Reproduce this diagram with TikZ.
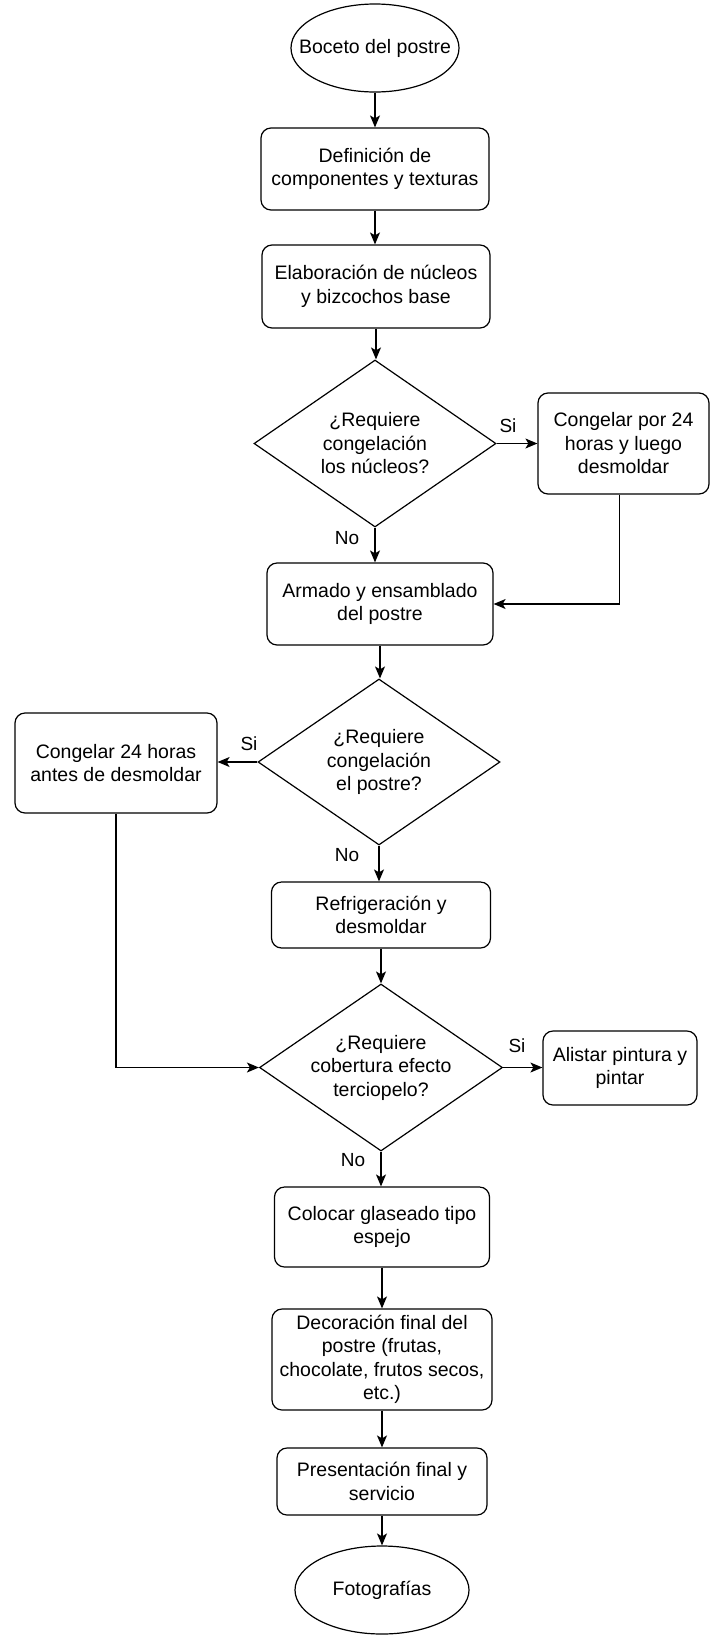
\documentclass[tikz,border=0pt]{standalone}
\usepackage{fontspec}
\setmainfont{Liberation Sans}
\usetikzlibrary{shapes.geometric,arrows.meta}
\tikzset{
  base/.style={draw=black, line width=1.2pt, fill=white, align=center, inner sep=0pt,
    font=\fontsize{19.5}{23.5}\selectfont},
  procbox/.style={base, rectangle, rounded corners=10pt},
  termin/.style={base, ellipse, inner xsep=-30pt, inner ysep=-15pt},
  decis/.style={base, diamond, aspect=1.45},
  conn/.style={line width=1.2pt, draw=black, -{Stealth[length=12pt,width=10pt,inset=3pt]}},
  lbl/.style={font=\fontsize{19}{22}\selectfont, inner sep=0pt}
}
\begin{document}
\begin{tikzpicture}[x=1pt,y=-1pt]
\useasboundingbox[fill=white] (0,0) rectangle (710,1639);

\node[termin, minimum width=168pt, minimum height=88pt] (start) at (375,48) {Boceto del postre};
\node[procbox, minimum width=228pt, minimum height=82pt] (b1) at (375,169) {Definición de\\componentes y texturas};
\node[procbox, minimum width=228pt, minimum height=83pt] (b2) at (376,286.5) {Elaboración de núcleos\\y bizcochos base};
\node[decis, minimum width=242pt, minimum height=167pt] (d1) at (375,443.5) {¿Requiere\\congelación\\los núcleos?};
\node[procbox, minimum width=171pt, minimum height=101pt] (r1) at (623.5,443.5) {Congelar por 24\\horas y luego\\desmoldar};
\node[procbox, minimum width=226pt, minimum height=82pt] (b3) at (380,604) {Armado y ensamblado\\del postre};
\node[decis, minimum width=242pt, minimum height=166pt] (d2) at (379,762) {¿Requiere\\congelación\\el postre?};
\node[procbox, minimum width=202pt, minimum height=100pt] (l1) at (116,763) {Congelar 24 horas\\antes de desmoldar};
\node[procbox, minimum width=219pt, minimum height=66pt] (b4) at (381,915) {Refrigeración y\\desmoldar};
\node[decis, minimum width=243pt, minimum height=167pt] (d3) at (381,1067.5) {¿Requiere\\cobertura efecto\\terciopelo?};
\node[procbox, minimum width=154pt, minimum height=74pt] (r2) at (620,1068) {Alistar pintura y\\pintar};
\node[procbox, minimum width=215pt, minimum height=80pt] (b5) at (382,1227) {Colocar glaseado tipo\\espejo};
\node[procbox, minimum width=220pt, minimum height=101pt] (b6) at (382,1359.5) {Decoración final del\\postre (frutas,\\chocolate, frutos secos,\\etc.)};
\node[procbox, minimum width=210pt, minimum height=67pt] (b7) at (382,1481.5) {Presentación final y\\servicio};
\node[termin, minimum width=174pt, minimum height=88pt] (end) at (382,1590) {Fotografías};

\draw[conn] (start.south) -- (start.south |- b1.north);
\draw[conn] (b1.south) -- (b1.south |- b2.north);
\draw[conn] (b2.south) -- (b2.south |- d1.north);
\draw[conn] (d1.south) -- (d1.south |- b3.north);
\draw[conn] (d1.east) -- (d1.east -| r1.west);
\coordinate (c1) at ([xshift=-4pt]r1.south);
\draw[conn] (c1) |- (b3.east);
\draw[conn] (b3.south) -- (b3.south |- d2.north);
\draw[conn] (d2.west) -- (d2.west -| l1.east);
\draw[conn] (d2.south) -- (d2.south |- b4.north);
\draw[conn] (b4.south) -- (b4.south |- d3.north);
\draw[conn] (l1.south) |- (d3.west);
\draw[conn] (d3.east) -- (d3.east -| r2.west);
\draw[conn] (d3.south) -- (d3.south |- b5.north);
\draw[conn] (b5.south) -- (b5.south |- b6.north);
\draw[conn] (b6.south) -- (b6.south |- b7.north);
\draw[conn] (b7.south) -- (b7.south |- end.north);

\node[lbl] (s1) at (508,426) {Si};
\node[lbl] (n1) at (347,538) {No};
\node[lbl] (s2) at (249,744) {Si};
\node[lbl] (n2) at (347,855) {No};
\node[lbl] (s3) at (517,1046) {Si};
\node[lbl] (n3) at (353,1160) {No};
\end{tikzpicture}
\end{document}
